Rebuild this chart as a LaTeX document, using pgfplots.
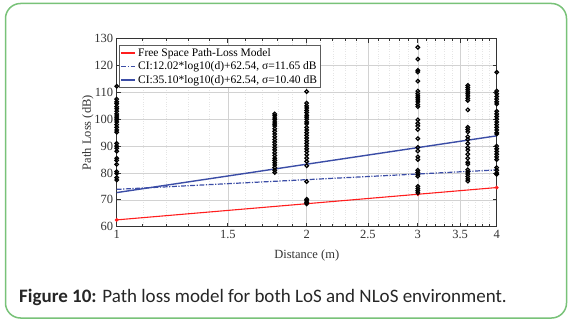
\documentclass[border=0pt]{standalone}
\usepackage{pgfplots}
\pgfplotsset{compat=1.18}
\usepackage{fontspec}
\setmainfont{Liberation Serif}
\newfontfamily\capfont{Carlito}
\definecolor{frameg}{HTML}{78C278}
\definecolor{plred}{HTML}{FF1E1E}
\definecolor{plblue}{HTML}{3B4DA6}
\definecolor{axgray}{HTML}{333333}
\begin{document}
\begin{tikzpicture}[x=1pt,y=1pt]
\path[use as bounding box] (0,0) rectangle (570,322);
\draw[frameg, line width=1.5pt, rounded corners=15pt] (5.5,4) rectangle (566.5,318.5);
\begin{axis}[
  at={(116.7pt,95.3pt)}, anchor=south west,
  scale only axis, width=380pt, height=188pt,
  xmode=log, xmin=1, xmax=4, ymin=60, ymax=130,
  xtick={1,1.5,2,2.5,3,3.5,4},
  xticklabels={1,1.5,2,2.5,3,3.5,4},
  minor xtick={1.1,1.2,1.3,1.4,1.6,1.7,1.8,1.9,2.1,2.2,2.3,2.4,2.6,2.7,2.8,2.9,3.1,3.2,3.3,3.4,3.6,3.7,3.8,3.9},
  ytick={60,70,80,90,100,110,120,130},
  /pgf/number format/assume math mode=true,
  tick label style={font=\fontsize{12.5}{14}\selectfont, text=axgray},
  label style={font=\fontsize{12.5}{14}\selectfont, text=axgray},
  xlabel={Distance (m)}, ylabel={Path Loss (dB)},
  xlabel style={at={(axis description cs:0.5,-0.155)}, anchor=center},
  ylabel style={at={(axis description cs:-0.076,0.5)}, anchor=center},
  grid=both,
  major grid style={draw=gray!35, line width=0.6pt},
  minor grid style={draw=gray!20, dotted, line width=0.5pt},
  axis line style={draw=axgray, line width=1.1pt},
  tick style={draw=axgray, line width=0.7pt},
  major tick length=4pt, minor tick length=2.5pt,
  tick align=inside,
  clip=false,
  legend cell align=left,
  legend style={at={(0.007,0.967)}, anchor=north west, draw=axgray!80, line width=0.8pt,
    font=\fontsize{11.5}{13}\selectfont, inner sep=1pt, row sep=0pt,
    /tikz/every even column/.append style={column sep=1pt}},
  legend image code/.code={\draw[#1] (0pt,0pt) -- (14pt,0pt);},
]
\addplot[plred, line width=1.1pt, mark=*, mark size=1.3pt] coordinates {
 (1,62.54) (2,68.56) (3,72.08) (4,74.58)};
\addlegendentry{Free Space Path-Loss Model}
\addplot[plblue, line width=1.2pt, dash pattern=on 5pt off 1.5pt on 1.2pt off 1.5pt] coordinates {
 (1,73.9) (1.5,76.02) (2,77.52) (2.5,78.68) (3,79.63) (3.5,80.44) (4,81.14)};
\addlegendentry{CI:12.02*log10(d)+62.54, σ=11.65 dB}
\addplot[plblue, line width=1.4pt] coordinates {
 (1,72.7) (1.5,78.88) (2,83.27) (2.5,86.67) (3,89.45) (3.5,91.80) (4,93.83)};
\addlegendentry{CI:35.10*log10(d)+62.54, σ=10.40 dB}
\addplot[only marks, mark=o, mark size=1.8pt, black, line width=1.2pt, forget plot] coordinates {
 (1,112.3) (1,107.5) (1,106.5) (1,105.8) (1,104.7) (1,103.9) (1,103.0) (1,102.0) (1,101.2)
 (1,100.5) (1,99.8) (1,99.0) (1,98.0) (1,97.0) (1,96.0) (1,95.2) (1,91.0) (1,90.0) (1,89.2)
 (1,88.1) (1,85.5) (1,84.7) (1,83.2) (1,80.5) (1,79.8) (1,78.3) (1,77.4)
 (1.78,102.0) (1.78,101.3) (1.78,100.5) (1.78,99.8) (1.78,99.0) (1.78,98.2) (1.78,97.5)
 (1.78,96.5) (1.78,95.5) (1.78,94.5) (1.78,93.5) (1.78,92.5) (1.78,91.5) (1.78,90.5)
 (1.78,89.5) (1.78,88.6) (1.78,87.5) (1.78,86.5) (1.78,85.5) (1.78,84.7) (1.78,83.8)
 (1.78,83.0) (1.78,82.0) (1.78,81.0) (1.78,80.2)
 (2,110.3) (2,106.0) (2,105.0) (2,104.2) (2,103.3) (2,102.5) (2,101.5) (2,100.8) (2,100.0)
 (2,99.0) (2,98.3) (2,97.0) (2,96.0) (2,95.0) (2,94.0) (2,93.0) (2,92.0) (2,91.0) (2,90.0)
 (2,89.0) (2,88.0) (2,86.8) (2,85.5) (2,84.3) (2,82.7) (2,76.8) (2,70.2) (2,69.6) (2,69.0) (2,68.5)
 (3,126.8) (3,122.4) (3,118.2) (3,117.6) (3,114.2) (3,110.5) (3,109.5) (3,108.7) (3,108.0)
 (3,107.2) (3,106.5) (3,105.5) (3,104.7) (3,99.8) (3,98.5) (3,97.5) (3,96.2) (3,92.8)
 (3,89.5) (3,88.2) (3,86.0) (3,85.0) (3,81.0) (3,80.2) (3,79.5) (3,78.8) (3,75.0) (3,74.2)
 (3,73.4) (3,72.6)
 (3.6,112.6) (3.6,111.8) (3.6,111.0) (3.6,110.2) (3.6,109.5) (3.6,108.7) (3.6,107.8)
 (3.6,107.0) (3.6,103.5) (3.6,97.0) (3.6,96.2) (3.6,95.3) (3.6,93.5) (3.6,92.5) (3.6,91.0)
 (3.6,89.5) (3.6,88.5) (3.6,87.0) (3.6,85.5) (3.6,84.0) (3.6,83.3) (3.6,81.2) (3.6,80.4)
 (3.6,79.6) (3.6,78.7) (3.6,77.8) (3.6,77.0)
 (4,117.5) (4,110.5) (4,109.5) (4,108.5) (4,107.5) (4,106.5) (4,105.7) (4,103.0) (4,102.0)
 (4,101.0) (4,100.0) (4,99.0) (4,98.0) (4,97.0) (4,96.0) (4,95.0) (4,94.5) (4,90.0) (4,89.0)
 (4,88.0) (4,87.0) (4,86.0) (4,85.0) (4,82.0) (4,81.0) (4,80.0) (4,79.5)
};
\end{axis}
\node[anchor=base west, inner sep=0pt, font=\capfont\fontsize{19}{22}\selectfont, text=black!85] at (19,20)
 {\textbf{Figure 10:} Path loss model for both LoS and NLoS environment.};
\end{tikzpicture}
\end{document}
